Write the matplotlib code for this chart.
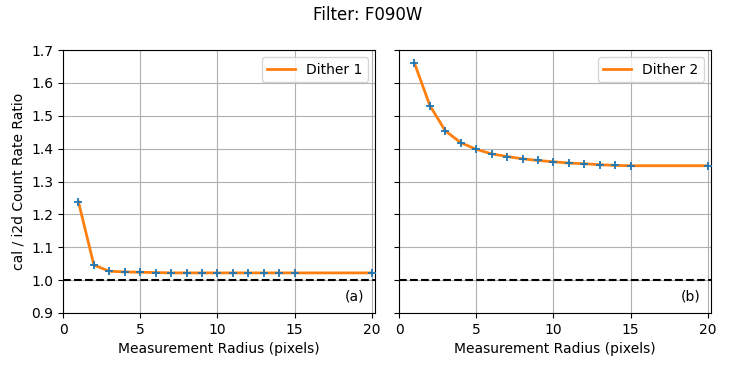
import matplotlib
matplotlib.use("Agg")
import matplotlib.pyplot as plt

radius = [1, 2, 3, 4, 5, 6, 7, 8, 9, 10, 11, 12, 13, 14, 15, 20]
dither1 = [1.238, 1.046, 1.027, 1.025, 1.024, 1.023, 1.022, 1.022, 1.022, 1.022,
           1.022, 1.022, 1.022, 1.022, 1.022, 1.022]
dither2 = [1.660, 1.531, 1.454, 1.418, 1.398, 1.384, 1.376, 1.369, 1.364, 1.360,
           1.356, 1.354, 1.351, 1.349, 1.348, 1.348]
labels = ["Dither 1", "Dither 2"]
panel_tags = ["(a)", "(b)"]

fig = plt.figure(figsize=(7.36, 3.68), dpi=100)
ax1 = fig.add_axes([63/736, 55/368, 312/736, 263/368])
ax2 = fig.add_axes([399/736, 55/368, 312/736, 263/368], sharey=ax1)

for ax, y, lab, tag in zip([ax1, ax2], [dither1, dither2], labels, panel_tags):
    ax.plot(radius, y, '-', color='C1', lw=2, label=lab, zorder=2)
    ax.plot(radius, y, '+', color='C0', markersize=6, mew=1.3, zorder=3)
    ax.axhline(1.0, color='k', ls='--', lw=1.5)
    ax.set_xlim(0, 20.2)
    ax.set_xticks([0, 5, 10, 15, 20])
    ax.grid(True)
    ax.set_xlabel("Measurement Radius (pixels)")
    ax.legend(loc='upper right')
    ax.text(0.965, 0.035, tag, transform=ax.transAxes, ha='right', va='bottom')

ax1.set_ylim(0.9, 1.7)
ax1.set_yticks([0.9, 1.0, 1.1, 1.2, 1.3, 1.4, 1.5, 1.6, 1.7])
ax1.set_ylabel("cal / i2d Count Rate Ratio")
plt.setp(ax2.get_yticklabels(), visible=False)

fig.suptitle("Filter: F090W", y=0.985)
fig.savefig("out.png", dpi=100)
